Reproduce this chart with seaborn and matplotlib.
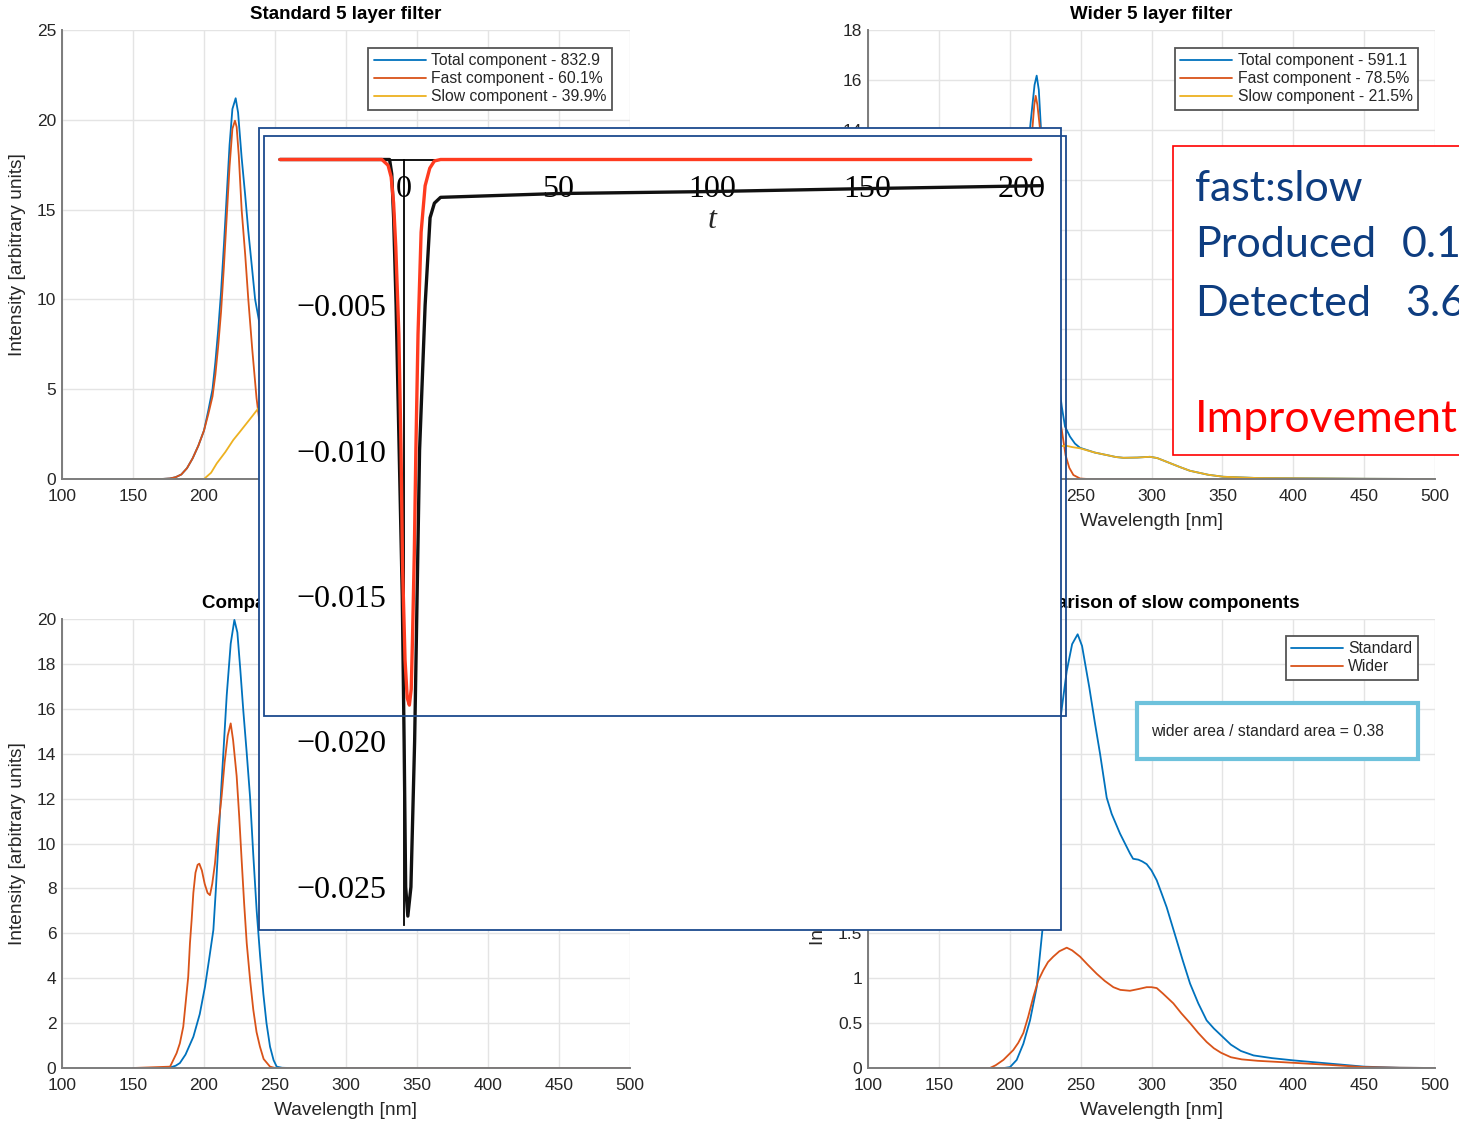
import numpy as np
import matplotlib
matplotlib.use("Agg")
import matplotlib.pyplot as plt
import seaborn as sns
from matplotlib.patches import Rectangle
from matplotlib.ticker import FuncFormatter

sns.set_style("white")
plt.rcParams['font.family'] = ['Liberation Sans', 'DejaVu Sans']
plt.rcParams['axes.unicode_minus'] = True

# ---------------- spectra: standard 5 layer filter ----------------
tl_total_wl = [150, 170, 176, 180, 184, 188, 192, 196, 200, 203, 206, 208, 210, 212, 214, 216, 218, 220,
               222.3, 224, 226.5, 229, 231.2, 234, 236, 238.3, 240, 243, 248, 255, 263, 270, 280, 290,
               297, 305, 318, 327, 340, 350, 360, 375, 400, 425, 450, 475, 500]
tl_total = [0, 0, 0.03, 0.1, 0.25, 0.6, 1.15, 1.85, 2.7, 3.8, 5.0, 6.5, 8.3, 10.4, 13.0, 15.8, 18.6, 20.6,
            21.2, 20.4, 17.9, 15.8, 13.8, 11.6, 10.0, 9.0, 8.2, 6.8, 5.5, 4.5, 3.5, 2.9, 2.5, 2.3,
            2.25, 2.0, 1.4, 0.93, 0.5, 0.33, 0.2, 0.13, 0.08, 0.05, 0.015, 0.003, 0]
tl_fast_wl = [150, 170, 176, 180, 184, 188, 192, 196, 200, 203, 206, 208, 210, 212, 214, 216, 218, 220,
              221.8, 223, 224.5, 226.5, 229, 231.2, 234, 237, 240, 243, 246, 250, 255, 260, 500]
tl_fast = [0, 0, 0.03, 0.1, 0.25, 0.6, 1.15, 1.85, 2.7, 3.6, 4.6, 5.8, 7.4, 9.3, 11.8, 14.6, 17.4, 19.5,
           19.95, 19.6, 18.0, 15.0, 12.5, 10.0, 7.2, 4.5, 2.6, 1.4, 0.7, 0.25, 0.05, 0, 0]
tl_slow_wl = [150, 200, 205, 209, 215, 220.6, 225, 230, 234, 238.3, 243, 248, 255, 263, 270, 280, 290,
              297, 305, 318, 327, 340, 350, 360, 375, 400, 425, 450, 475, 500]
tl_slow = [0, 0, 0.35, 0.87, 1.5, 2.17, 2.6, 3.1, 3.5, 3.94, 4.4, 4.6, 4.2, 3.5, 2.9, 2.5, 2.3,
           2.25, 2.0, 1.4, 0.93, 0.5, 0.33, 0.2, 0.13, 0.08, 0.05, 0.015, 0.003, 0]
tl_labels = ["Total component - 832.9", "Fast component - 60.1%", "Slow component - 39.9%"]

# ---------------- spectra: wider 5 layer filter ----------------
tr_total_wl = [150, 176, 181, 185, 187, 189, 191, 193, 195, 196.7, 199, 202, 204, 206, 208, 210, 212,
               214.3, 216, 217.5, 219, 220.5, 222, 223.5, 226.5, 230, 233, 236.7, 239, 242.5, 246,
               249.6, 260, 268.4, 275, 280.2, 290, 298.9, 304, 310.7, 320, 327.1, 340, 350.7, 374.2,
               400, 450, 500]
tr_total = [0, 0.06, 0.65, 1.8, 2.9, 4.1, 6.3, 8.0, 9.0, 9.2, 8.9, 8.1, 8.0, 8.5, 9.6, 11.0, 12.5,
            14.06, 15.0, 15.8, 16.17, 15.6, 14.06, 12.9, 10.3, 6.8, 4.6, 2.9, 2.1, 1.7, 1.42,
            1.25, 1.06, 0.96, 0.88, 0.85, 0.86, 0.89, 0.84, 0.69, 0.48, 0.33, 0.17, 0.09, 0.04,
            0.03, 0.01, 0]
tr_fast_wl = [150, 176, 181, 185, 187, 189, 191, 193, 195, 196.7, 199, 202, 204, 206, 208, 210, 212.4,
              214, 216, 217.3, 218.3, 219.5, 221.3, 223, 226.5, 230, 234.7, 236.7, 239.4, 242, 244.9,
              249.6, 255, 500]
tr_fast = [0, 0.06, 0.65, 1.8, 2.9, 4.1, 6.3, 8.0, 8.9, 9.1, 8.7, 7.9, 7.7, 8.2, 9.2, 10.6, 12.1,
           12.9, 14.06, 15.0, 15.36, 15.0, 14.06, 13.0, 9.3, 5.6, 2.6, 1.96, 0.95, 0.45, 0.16,
           0.02, 0, 0]
tr_slow_wl = [150, 186, 195, 202.5, 209.6, 216.6, 223.7, 230.7, 236.6, 240, 244, 249.6, 260, 268.4,
              275, 280.2, 290, 298.9, 304, 310.7, 320, 327.1, 340, 350.7, 374.2, 400, 450, 500]
tr_slow = [0, 0, 0.09, 0.2, 0.39, 0.79, 1.09, 1.24, 1.32, 1.33, 1.28, 1.23, 1.06, 0.96,
           0.88, 0.85, 0.86, 0.89, 0.84, 0.69, 0.48, 0.33, 0.17, 0.09, 0.04, 0.03, 0.01, 0]
tr_labels = ["Total component - 591.1", "Fast component - 78.5%", "Slow component - 21.5%"]

# ---------------- fast components compared ----------------
bl_std_wl = [150, 174, 176, 180, 183, 187, 192.5, 197, 200.7, 203.5, 206.6, 208.4, 210.1, 212, 213.6,
             216, 218.8, 221.4, 223.5, 225.5, 227.7, 230, 232.4, 234.7, 237.1, 239.5, 241.8, 244,
             246.5, 249, 251.2, 255, 260, 500]
bl_std = [0, 0, 0.02, 0.1, 0.22, 0.6, 1.39, 2.4, 3.62, 4.8, 6.15, 8.0, 10.0, 12.3, 14.0,
          16.6, 18.9, 19.96, 19.4, 17.8, 15.9, 14.1, 12.1, 9.5, 7.0, 5.0, 3.3, 2.0,
          0.95, 0.35, 0.06, 0.01, 0, 0]
bl_wid_wl = [150, 176.1, 180.7, 183, 185.4, 186.6, 188.9, 190.1, 191.3, 192.5, 194, 195.5, 196.7,
             198.5, 200.5, 202.5, 204.2, 205.8, 207.7, 210, 212.4, 214.5, 216.7, 218.8, 220.5, 223,
             224.8, 226.5, 228.3, 230.1, 232.5, 234.7, 237, 239.4, 242, 246.5, 250, 500]
bl_wid = [0, 0.06, 0.66, 1.1, 1.84, 2.6, 4.07, 5.55, 6.6, 7.8, 8.7, 9.05, 9.1,
          8.8, 8.2, 7.8, 7.7, 8.2, 9.1, 10.7, 12.1, 13.6, 14.8, 15.35, 14.6, 13.0,
          11.2, 9.27, 7.3, 5.55, 3.9, 2.6, 1.6, 0.95, 0.4, 0.06, 0, 0]

# ---------------- slow components compared ----------------
br_std_wl = [150, 196, 200.2, 204.9, 209.6, 214.3, 219, 223, 227, 231, 235, 240.2, 244, 247.9, 251,
             256.1, 260, 263.7, 268.4, 271.9, 277.8, 284.8, 287, 290.7, 293.5, 296.6, 300, 303.7,
             307, 310.7, 317.8, 322, 327.2, 333, 338.9, 344, 350, 356, 363, 372, 385, 400, 425,
             450, 475, 500]
br_std = [0, 0, 0.01, 0.09, 0.27, 0.53, 0.9, 1.53, 2.3, 3.1, 3.8, 4.42, 4.72, 4.83, 4.7,
          4.24, 3.85, 3.5, 3.01, 2.83, 2.61, 2.39, 2.33, 2.32, 2.3, 2.27, 2.2, 2.09,
          1.95, 1.79, 1.42, 1.2, 0.94, 0.72, 0.53, 0.44, 0.35, 0.26, 0.19, 0.14, 0.11, 0.085, 0.05,
          0.015, 0.003, 0]
br_wid_wl = [150, 186, 190, 195.5, 202.5, 206, 209.6, 213, 216.6, 220, 223.7, 227, 230.7, 235, 240.2,
             244, 249.6, 255, 261.3, 267, 273.1, 278, 284.8, 291, 296.6, 300, 303.7, 308, 315.4,
             321, 327.2, 333, 338.9, 344, 349, 356, 363.7, 375, 400, 425, 450, 475, 500]
br_wid = [0, 0, 0.03, 0.09, 0.2, 0.28, 0.39, 0.57, 0.79, 0.97, 1.09, 1.18, 1.24, 1.3, 1.34,
          1.31, 1.24, 1.15, 1.05, 0.97, 0.9, 0.87, 0.86, 0.88, 0.9, 0.9, 0.89, 0.83, 0.72,
          0.61, 0.5, 0.39, 0.29, 0.22, 0.17, 0.12, 0.096, 0.08, 0.058, 0.035, 0.01, 0.003, 0]
cmp_labels = ["Standard", "Wider"]
area_note = "wider area / standard area = 0.38"

# ---------------- time-domain response (t) ----------------
t_black = [-40, -4.5, -3.8, -3.2, -2.4, -1.4, -0.4, 0.2, 0.7, 1.4, 2.4, 3.6, 4.4, 5.2, 7.0, 8.6,
           10, 12, 50, 100, 150, 206]
resp_black = [0, 0, -0.0005, -0.002, -0.005, -0.010, -0.015, -0.020, -0.025, -0.0260, -0.025,
              -0.020, -0.015, -0.010, -0.005, -0.002, -0.0015, -0.0013, -0.00117, -0.0011,
              -0.001, -0.0009]
t_red = [-40, -7, -5, -4, -3.2, -2.5, -1.5, -0.8, -0.3, 0.5, 1.2, 1.9, 2.5, 2.9, 3.5, 4.0, 4.7,
         5.7, 7, 8.5, 10, 12, 203]
resp_red = [0, 0, -0.0002, -0.0006, -0.0015, -0.003, -0.006, -0.010, -0.014, -0.0172, -0.0185,
            -0.01875, -0.0182, -0.0165, -0.0135, -0.010, -0.006, -0.0025, -0.0009, -0.0003,
            -0.00005, 0, 0]
t_ticks = [0, 50, 100, 150, 200]
resp_ticks = [-0.025, -0.020, -0.015, -0.010, -0.005]

# ---------------- ratio summary ----------------
summary_rows = ["fast:slow", "Produced", "Detected"]
summary_vals = ["0.1", "3.6"]
summary_last = "Improvement"

# ================= drawing =================
W, H = 1459, 1121
fig = plt.figure(figsize=(W / 100, H / 100), dpi=100)
fig.patch.set_facecolor("white")


def px_axes(x0, y0, x1, y1, **kw):
    return fig.add_axes([x0 / W, 1 - y1 / H, (x1 - x0) / W, (y1 - y0) / H], **kw)


ML_BLUE, ML_ORANGE, ML_YELLOW = "#0072BD", "#D95319", "#EDB120"
AX_GREY = "#7c7c7c"
TXT = "#262626"
LW = 1.3


def matlab_axes(ax, ymax, ystep, title):
    ax.set_xlim(100, 500)
    ax.set_ylim(0, ymax)
    ax.set_xticks(np.arange(100, 501, 50))
    ax.set_yticks(np.arange(0, ymax + 1e-9, ystep))
    ax.yaxis.set_major_formatter(FuncFormatter(lambda v, p: f"{v:g}"))
    ax.grid(True, color="#e4e4e4", lw=1.0)
    ax.set_axisbelow(True)
    for s in ["top", "right"]:
        ax.spines[s].set_visible(False)
    for s in ["left", "bottom"]:
        ax.spines[s].set_color(AX_GREY)
        ax.spines[s].set_linewidth(1.4)
    ax.tick_params(direction="in", length=4, width=1.0, color=AX_GREY, labelsize=12.5,
                   labelcolor=TXT, pad=4)
    ax.tick_params(axis="x", pad=7.5)
    ax.set_title(title, fontsize=13.5, fontweight="bold", color="black", pad=8)
    ax.set_xlabel("Wavelength [nm]", fontsize=13.75, color=TXT, labelpad=6.5)
    ax.set_ylabel("Intensity [arbitrary units]", fontsize=13.75, color=TXT, labelpad=8)


def matlab_legend(ax, right_px, top_px):
    h, l = ax.get_legend_handles_labels()
    leg = ax.legend(h, l, loc="upper right", bbox_to_anchor=(right_px / W, 1 - top_px / H),
                    bbox_transform=fig.transFigure, borderaxespad=0, fontsize=11.3,
                    frameon=True, fancybox=False, edgecolor="#555555", framealpha=1,
                    handlelength=3.3, handletextpad=0.35, labelspacing=0.18, borderpad=0.35)
    leg.get_frame().set_linewidth(1.3)
    for t in leg.get_texts():
        t.set_color(TXT)
    return leg


# top-left
ax1 = px_axes(62, 30, 630, 479)
sns.lineplot(x=tl_total_wl, y=tl_total, ax=ax1, color=ML_BLUE, lw=LW, label=tl_labels[0])
sns.lineplot(x=tl_fast_wl, y=tl_fast, ax=ax1, color=ML_ORANGE, lw=LW, label=tl_labels[1])
sns.lineplot(x=tl_slow_wl, y=tl_slow, ax=ax1, color=ML_YELLOW, lw=LW, label=tl_labels[2])
matlab_axes(ax1, 25, 5, "Standard 5 layer filter")
matlab_legend(ax1, 612, 48)

# top-right
ax2 = px_axes(868, 30, 1435, 479)
sns.lineplot(x=tr_total_wl, y=tr_total, ax=ax2, color=ML_BLUE, lw=LW, label=tr_labels[0])
sns.lineplot(x=tr_fast_wl, y=tr_fast, ax=ax2, color=ML_ORANGE, lw=LW, label=tr_labels[1])
sns.lineplot(x=tr_slow_wl, y=tr_slow, ax=ax2, color=ML_YELLOW, lw=LW, label=tr_labels[2])
matlab_axes(ax2, 18, 2, "Wider 5 layer filter")
matlab_legend(ax2, 1418, 48)

# bottom-left
ax3 = px_axes(62, 619, 630, 1068)
sns.lineplot(x=bl_std_wl, y=bl_std, ax=ax3, color=ML_BLUE, lw=LW, label=cmp_labels[0])
sns.lineplot(x=bl_wid_wl, y=bl_wid, ax=ax3, color=ML_ORANGE, lw=LW, label=cmp_labels[1])
matlab_axes(ax3, 20, 2, "Comparison of fast components")
matlab_legend(ax3, 612, 636)

# bottom-right
ax4 = px_axes(868, 619, 1435, 1068)
sns.lineplot(x=br_std_wl, y=br_std, ax=ax4, color=ML_BLUE, lw=LW, label=cmp_labels[0])
sns.lineplot(x=br_wid_wl, y=br_wid, ax=ax4, color=ML_ORANGE, lw=LW, label=cmp_labels[1])
matlab_axes(ax4, 5, 0.5, "Comparison of slow components")
matlab_legend(ax4, 1418, 636)

# area ratio callout
fig.add_artist(Rectangle((1137 / W, 1 - 759 / H), (1418 - 1137) / W, (759 - 703) / H,
                         transform=fig.transFigure, facecolor="white", edgecolor="#6ec2dc",
                         lw=3.0, zorder=20))
fig.text(1151 / W, 1 - 731 / H, area_note, fontsize=11.3, color=TXT, va="center",
         ha="left", zorder=21)

# ---------------- time-response panel ----------------
T0_PX, T_SCALE = 403.5, 3.09          # pixels at t=0, pixels per unit t
R0_PX, R_SCALE = 159.5, 145.5 / 0.005  # pixels at zero response, pixels per unit
ins = px_axes(259, 128, 1061, 930)
ins.set_zorder(5)
ins.set_facecolor("white")
ins.set_xlim((259 - T0_PX) / T_SCALE, (1061 - T0_PX) / T_SCALE)
ins.set_ylim(-(930 - R0_PX) / R_SCALE, (R0_PX - 128) / R_SCALE)

sns.lineplot(x=t_black, y=resp_black, ax=ins, color="#111111", lw=2.4, legend=False,
             zorder=3, sort=False)
sns.lineplot(x=t_red, y=resp_red, ax=ins, color="#ff3b1f", lw=2.4, legend=False,
             zorder=4, sort=False)

for s in ["top", "right"]:
    ins.spines[s].set_visible(False)
ins.spines["bottom"].set_position(("data", 0))
ins.spines["bottom"].set_bounds(-40, 203)
ins.spines["left"].set_position(("data", 0))
ins.spines["left"].set_bounds(-0.0263, 0)
for s in ["bottom", "left"]:
    ins.spines[s].set_color("black")
    ins.spines[s].set_linewidth(1.3)

ins.set_xticks(t_ticks, labels=[str(v) for v in t_ticks])
ins.set_xticks([v for v in range(-40, 201, 10) if v not in t_ticks], minor=True)
ins.set_yticks(resp_ticks, labels=[f"\u2212{abs(v):.3f}" for v in resp_ticks])
ins.set_yticks([-k / 1000 for k in range(1, 27) if k % 5], minor=True)
ins.tick_params(which="major", direction="inout", length=9, width=1.2, colors="black",
                labelsize=23, labelfontfamily="Liberation Serif")
ins.tick_params(which="minor", direction="inout", length=5, width=1.0, colors="black")
ins.tick_params(axis="x", which="major", pad=6.5)
ins.tick_params(axis="y", which="major", pad=8)
ins.set_xlabel("t", fontsize=23, fontstyle="italic", family="Liberation Serif")
ins.xaxis.set_label_coords((712 - 259) / 802, 1 - (206 - 128) / 802)
ins.set_ylabel("")
ins.grid(False)

FRAME = "#1b4a8e"
fig.add_artist(Rectangle((259 / W, 1 - 930 / H), 802 / W, 802 / H, transform=fig.transFigure,
                         fill=False, edgecolor=FRAME, lw=1.3, zorder=20))
fig.add_artist(Rectangle((264 / W, 1 - 716 / H), 802 / W, (716 - 136) / H,
                         transform=fig.transFigure, fill=False, edgecolor=FRAME, lw=1.3,
                         zorder=20))

# ---------------- ratio summary box ----------------
fig.add_artist(Rectangle((1173 / W, 1 - 455 / H), (1520 - 1173) / W, (455 - 146) / H,
                         transform=fig.transFigure, facecolor="white", edgecolor="#ff0000",
                         lw=1.2, zorder=20))
SUM_BLUE = "#0e3d80"
SUM_FONT = ["Lato", "DejaVu Sans"]
for row, y in zip(summary_rows, [200.7, 257.3, 316]):
    fig.text(1195 / W, 1 - y / H, row, fontsize=31, color=SUM_BLUE, family=SUM_FONT,
             va="baseline", ha="left", zorder=21)
for val, x, y in zip(summary_vals, [1402, 1405], [257.3, 316]):
    fig.text(x / W, 1 - y / H, val, fontsize=31, color=SUM_BLUE, family=SUM_FONT,
             va="baseline", ha="left", zorder=21)
fig.text(1195 / W, 1 - 431.7 / H, summary_last, fontsize=32, color="#ff0000", family=SUM_FONT,
         va="baseline", ha="left", zorder=21)

fig.savefig("out.png", dpi=100, facecolor="white")
